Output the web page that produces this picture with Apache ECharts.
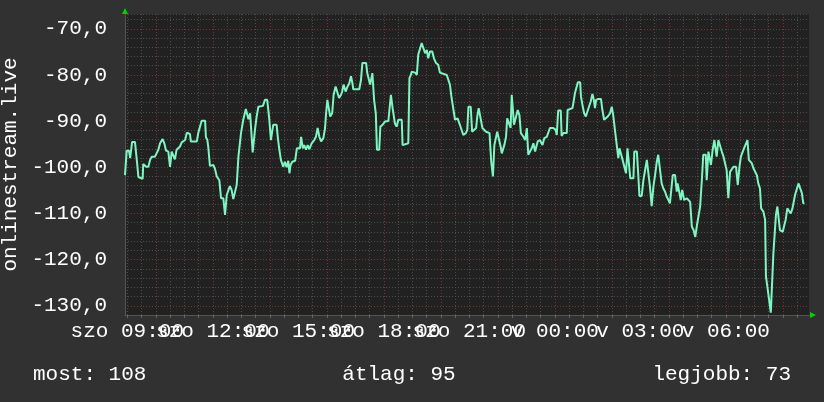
<!DOCTYPE html>
<html>
<head>
<meta charset="utf-8">
<title>onlinestream.live</title>
<script src="https://cdn.jsdelivr.net/npm/echarts@6/dist/echarts.min.js"></script>
<style>
  html, body { margin: 0; padding: 0; background: #313131; }
  #chart { width: 824px; height: 402px; }
</style>
</head>
<body>
<div id="chart"></div>
<script>
// time of each reading, hours since Saturday 00:00
const hours = [
  8.92, 8.98, 9.06, 9.10, 9.15, 9.17, 9.27, 9.31, 9.34, 9.39, 9.45, 9.54, 9.56, 9.62, 9.66, 9.74, 9.80, 9.86, 9.97, 10.01,
  10.09, 10.15, 10.24, 10.30, 10.36, 10.44, 10.50, 10.56, 10.61, 10.67, 10.73, 10.79, 10.85, 10.91, 11.03, 11.09, 11.20, 11.23, 11.44, 11.49,
  11.55, 11.61, 11.73, 11.76, 11.81, 11.84, 11.90, 12.02, 12.08, 12.14, 12.23, 12.29, 12.37, 12.43, 12.49, 12.54, 12.60, 12.66, 12.72, 12.78,
  12.84, 12.90, 12.99, 13.07, 13.16, 13.25, 13.31, 13.40, 13.48, 13.54, 13.60, 13.76, 13.83, 13.91, 13.95, 13.98, 14.04, 14.09, 14.12, 14.24,
  14.28, 14.32, 14.39, 14.47, 14.53, 14.59, 14.65, 14.69, 14.73, 14.79, 14.89, 14.95, 15.06, 15.10, 15.16, 15.21, 15.27, 15.33, 15.39, 15.47,
  15.56, 15.62, 15.68, 15.74, 15.80, 15.88, 15.94, 15.97, 16.02, 16.08, 16.12, 16.19, 16.24, 16.31, 16.38, 16.43, 16.50, 16.54, 16.59, 16.66,
  16.73, 16.79, 16.85, 16.90, 16.93, 17.14, 17.20, 17.25, 17.32, 17.38, 17.42, 17.46, 17.52, 17.55, 17.60, 17.66, 17.72, 17.76, 17.84, 17.88,
  17.96, 18.04, 18.16, 18.22, 18.25, 18.31, 18.36, 18.39, 18.45, 18.51, 18.63, 18.66, 18.86, 18.90, 18.95, 18.98, 19.10, 19.16, 19.21, 19.27,
  19.33, 19.39, 19.45, 19.51, 19.56, 19.62, 19.70, 19.76, 19.83, 19.91, 19.97, 20.21, 20.26, 20.32, 20.38, 20.44, 20.50, 20.59, 20.67, 20.73,
  20.79, 20.88, 20.93, 20.97, 21.05, 21.10, 21.17, 21.24, 21.28, 21.33, 21.40, 21.46, 21.53, 21.59, 21.65, 21.71, 21.77, 21.83, 21.88, 21.94,
  21.98, 22.04, 22.10, 22.14, 22.19, 22.23, 22.29, 22.33, 22.39, 22.45, 22.49, 22.52, 22.57, 22.64, 22.70, 22.76, 22.81, 22.90, 22.96, 23.02,
  23.05, 23.07, 23.13, 23.19, 23.25, 23.31, 23.37, 23.40, 23.48, 23.54, 23.57, 23.63, 23.72, 23.77, 23.83, 23.95, 24.03, 24.07, 24.12, 24.21,
  24.24, 24.30, 24.42, 24.45, 24.53, 24.62, 24.66, 24.71, 24.77, 24.81, 24.89, 24.92, 24.97, 25.03, 25.09, 25.14, 25.20, 25.26, 25.32, 25.37,
  25.41, 25.45, 25.53, 25.62, 25.67, 25.73, 25.80, 25.86, 25.94, 26.00, 26.05, 26.11, 26.18, 26.23, 26.27, 26.32, 26.38, 26.43, 26.47, 26.50,
  26.55, 26.61, 26.65, 26.70, 26.76, 26.79, 26.88, 26.93, 26.97, 27.05, 27.11, 27.17, 27.23, 27.28, 27.34, 27.40, 27.46, 27.52, 27.58, 27.63,
  27.69, 27.75, 27.81, 27.87, 27.93, 27.99, 28.04, 28.10, 28.14, 28.22, 28.28, 28.31, 28.37, 28.42, 28.47, 28.51, 28.54, 28.58, 28.63, 28.69,
  28.75, 28.81, 28.87, 28.93, 28.99, 29.04, 29.10, 29.16, 29.21, 29.30, 29.33, 29.39, 29.45, 29.48, 29.54, 29.60, 29.65, 29.68, 29.74, 29.80,
  29.86, 29.92, 29.97, 30.03, 30.09, 30.15, 30.21, 30.27, 30.36, 30.42, 30.48, 30.53, 30.60, 30.64, 30.70, 30.76, 30.81, 30.85, 30.91, 30.97,
  31.03, 31.09, 31.14, 31.20, 31.24, 31.32, 31.38, 31.41, 31.46, 31.53, 31.58, 31.63, 31.67, 31.73, 31.76, 31.81, 31.86, 31.90, 32.00, 32.04,
  32.10, 32.16, 32.22, 32.28, 32.34, 32.39, 32.43, 32.49, 32.55, 32.61, 32.67, 32.72, 32.76
];
const values = [
  -101.7, -96.4, -96.4, -98.0, -98.0, -94.5, -94.5, -94.8, -98.8, -102.1, -102.5, -102.5, -99.3, -99.3, -99.9, -99.9, -98.4, -97.7, -97.7, -97.8,
  -96.2, -94.8, -93.9, -94.8, -96.4, -96.6, -99.9, -96.6, -96.2, -98.3, -96.2, -95.9, -95.5, -94.6, -94.1, -92.5, -92.8, -94.4, -94.4, -92.6,
  -92.3, -89.9, -89.9, -93.5, -94.1, -95.5, -99.7, -99.5, -100.4, -102.0, -102.8, -106.7, -106.7, -110.3, -106.0, -105.6, -104.1, -104.9, -106.9, -107.1,
  -103.8, -97.7, -92.6, -89.7, -87.4, -89.6, -88.3, -96.8, -91.9, -89.0, -86.9, -86.7, -85.4, -85.4, -85.8, -89.4, -94.1, -94.1, -90.8, -90.8,
  -93.4, -95.5, -98.4, -99.9, -98.8, -100.0, -98.6, -101.3, -99.5, -98.8, -98.6, -95.9, -95.9, -93.4, -95.9, -95.2, -96.2, -95.2, -96.1, -94.8,
  -94.1, -93.4, -91.5, -93.4, -94.4, -93.7, -91.5, -88.7, -85.4, -85.8, -89.0, -88.3, -84.3, -82.5, -82.9, -85.0, -84.3, -83.6, -82.1, -83.6,
  -82.5, -81.8, -80.3, -81.8, -83.1, -83.1, -81.1, -77.4, -77.1, -77.4, -79.6, -79.3, -82.1, -82.5, -79.6, -85.4, -88.3, -96.2, -96.2, -91.2,
  -90.8, -90.1, -90.0, -89.7, -84.3, -87.2, -87.6, -90.5, -91.2, -89.7, -89.7, -95.2, -94.8, -80.7, -80.0, -79.3, -79.5, -80.0, -75.6, -75.6,
  -73.1, -73.1, -75.3, -74.6, -76.4, -74.9, -74.9, -76.4, -77.4, -77.8, -79.5, -80.0, -80.3, -82.1, -85.0, -85.4, -89.7, -89.4, -90.8, -90.8,
  -93.0, -92.6, -91.9, -86.9, -86.9, -92.3, -91.9, -91.5, -89.0, -87.2, -87.6, -91.5, -91.9, -92.3, -91.9, -92.6, -98.8, -102.0, -95.2, -94.8,
  -92.3, -91.9, -95.5, -97.0, -97.0, -95.2, -93.4, -89.4, -89.4, -91.5, -84.3, -84.3, -90.8, -90.8, -87.6, -88.7, -92.6, -93.4, -94.1, -91.5,
  -91.5, -97.3, -97.0, -95.9, -94.8, -96.6, -96.6, -94.4, -94.1, -94.1, -95.2, -93.7, -93.4, -93.0, -91.5, -91.5, -91.9, -93.0, -87.7, -87.7,
  -93.2, -92.6, -92.6, -87.6, -87.4, -87.2, -85.8, -83.9, -83.6, -81.6, -81.6, -84.7, -86.5, -88.3, -89.0, -88.7, -86.9, -85.8, -84.1, -85.4,
  -87.2, -85.4, -85.2, -85.2, -87.6, -89.7, -89.7, -89.0, -88.3, -86.9, -88.7, -91.9, -92.3, -98.0, -95.9, -96.2, -98.4, -98.8, -100.6, -101.3,
  -95.9, -95.9, -102.4, -102.8, -102.4, -96.6, -96.6, -101.7, -106.2, -106.2, -102.8, -100.6, -98.4, -98.4, -104.2, -108.4, -104.2, -101.7, -98.8, -97.3,
  -97.3, -103.5, -104.6, -105.3, -106.4, -107.1, -107.8, -107.8, -101.7, -101.7, -105.3, -103.5, -103.5, -107.1, -104.9, -104.6, -107.1, -107.5, -106.7, -106.7,
  -107.5, -112.9, -113.6, -115.1, -112.5, -112.1, -108.5, -102.8, -97.3, -97.3, -102.8, -96.6, -96.6, -99.5, -96.2, -94.1, -93.7, -97.7, -94.1, -94.4,
  -96.6, -97.7, -98.0, -100.6, -106.7, -101.0, -101.0, -99.9, -99.9, -103.8, -99.9, -97.7, -97.3, -95.9, -95.5, -94.1, -98.4, -98.4, -99.1, -100.2,
  -100.2, -101.7, -103.5, -104.6, -108.9, -109.6, -111.4, -123.7, -125.9, -125.9, -131.5, -131.5, -118.7, -118.3, -110.3, -108.5, -108.2, -113.6, -114.0, -112.9,
  -111.4, -108.9, -109.3, -110.0, -108.9, -108.5, -106.0, -105.6, -103.5, -103.5, -105.6, -107.8, -107.8
];
const labelHours = [9, 12, 15, 18, 21, 24, 27, 30];
const dayNames = ['szo', 'v'];
const summary = ['most: 108', 'átlag: 95', 'legjobb: 73'];

const FONT = 'Liberation Mono';
const MINOR = '#4d4d4d';
const MAJOR = '#7a3434';
const X_MIN = 8.92;
const X_MAX = 32.92;

// vertical grid: every half hour, red every two hours
const minorHours = [];
const majorHours = [];
for (let h = 9; h <= 32.5; h += 0.5) {
  if (h % 2 === 0) majorHours.push(h)
  else minorHours.push(h)
}
const allHours = minorHours.concat(majorHours);

function timeLabel(v) {
  const day = v < 24 ? dayNames[0] : dayNames[1]
  return day + ' ' + String(v % 24).padStart(2, '0') + ':00'
}

// labels overlap each other, so they are split on two axes
const labelStyle = {
  margin: 6,
  color: '#fff',
  fontFamily: FONT,
  fontSize: 21,
  showMinLabel: true,
  showMaxLabel: true,
  formatter: timeLabel
};

const chart = echarts.init(document.getElementById('chart'));
chart.setOption({
  backgroundColor: '#313131',
  animation: false,
  grid: {
    left: 125, top: 14, width: 684, height: 301,
    outerBoundsMode: 'none',
    containLabel: false,
    show: true, backgroundColor: '#212121', borderWidth: 0
  },
  xAxis: [{
    type: 'value',
    position: 'bottom',
    min: X_MIN,
    max: X_MAX,
    axisLine: { show: true, lineStyle: { color: '#555' } },
    axisTick: { show: true, customValues: allHours, length: 3, lineStyle: { color: '#666' } },
    axisLabel: Object.assign({ customValues: labelHours.filter((h, i) => i % 2 === 0) }, labelStyle),
    splitLine: { show: false }
  }, {
    type: 'value',
    position: 'bottom',
    min: X_MIN,
    max: X_MAX,
    axisLine: { show: false },
    axisTick: {
      show: true, customValues: minorHours, inside: true, length: 302,
      lineStyle: { color: MINOR, type: [1, 2], width: 1 }
    },
    axisLabel: Object.assign({ customValues: labelHours.filter((h, i) => i % 2 === 1) }, labelStyle),
    splitLine: { show: false }
  }, {
    type: 'value',
    position: 'bottom',
    min: X_MIN,
    max: X_MAX,
    axisLine: { show: false },
    axisTick: {
      show: true, customValues: majorHours, inside: true, length: 302,
      lineStyle: { color: MAJOR, type: [1, 2], width: 1 }
    },
    axisLabel: { show: false },
    splitLine: { show: false }
  }],
  yAxis: {
    type: 'value',
    min: -132,
    max: -66.8,
    interval: 2,
    name: 'onlinestream.live',
    nameLocation: 'middle',
    nameRotate: 90,
    nameGap: 98,
    nameTextStyle: { color: '#fff', fontFamily: FONT, fontSize: 21 },
    axisLine: { show: true, lineStyle: { color: '#555' } },
    axisTick: { show: false },
    axisLabel: {
      margin: 18,
      color: '#fff',
      fontFamily: FONT,
      fontSize: 21,
      formatter: function (v) {
        if (Math.abs(v % 10) > 0.001) return ''
        return v.toFixed(1).replace('.', ',')
      }
    },
    splitLine: {
      show: true,
      lineStyle: { color: [MINOR, MAJOR, MINOR, MINOR, MINOR], type: [1, 2], width: 1 }
    }
  },
  series: [{
    type: 'line',
    xAxisIndex: 0,
    data: hours.map((h, i) => [h, values[i]]),
    showSymbol: false,
    lineStyle: { color: '#7ff5c1', width: 2 },
    itemStyle: { color: '#7ff5c1' }
  }],
  graphic: [
    { type: 'polygon', shape: { points: [[122, 14], [128, 14], [125, 8]] }, style: { fill: '#00d400' } },
    { type: 'polygon', shape: { points: [[810, 312], [810, 318], [816, 315]] }, style: { fill: '#00d400' } },
    { type: 'text', x: 33, y: 374, style: { text: summary[0], fill: '#fff', font: '21px "' + FONT + '"', verticalAlign: 'middle' } },
    { type: 'text', x: 399, y: 374, style: { text: summary[1], fill: '#fff', font: '21px "' + FONT + '"', align: 'center', verticalAlign: 'middle' } },
    { type: 'text', x: 791, y: 374, style: { text: summary[2], fill: '#fff', font: '21px "' + FONT + '"', align: 'right', verticalAlign: 'middle' } }
  ]
});
</script>
</body>
</html>
